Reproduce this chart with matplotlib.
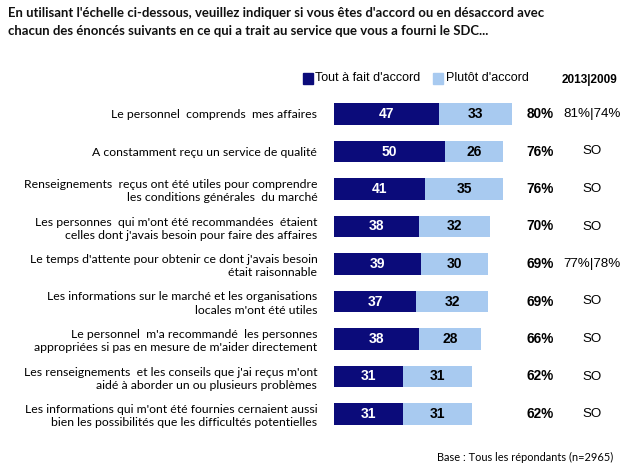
import matplotlib
matplotlib.use("Agg")
import matplotlib.pyplot as plt
from matplotlib.patches import Rectangle

categories = [
    "Le personnel  comprends  mes affaires",
    "A constamment reçu un service de qualité",
    "Renseignements  reçus ont été utiles pour comprendre\nles conditions générales  du marché",
    "Les personnes  qui m'ont été recommandées  étaient\ncelles dont j'avais besoin pour faire des affaires",
    "Le temps d'attente pour obtenir ce dont j'avais besoin\nétait raisonnable",
    "Les informations sur le marché et les organisations\nlocales m'ont été utiles",
    "Le personnel  m'a recommandé  les personnes\nappropriées si pas en mesure de m'aider directement",
    "Les renseignements  et les conseils que j'ai reçus m'ont\naidé à aborder un ou plusieurs problèmes",
    "Les informations qui m'ont été fournies cernaient aussi\nbien les possibilités que les difficultés potentielles",
]
tout_a_fait = [47, 50, 41, 38, 39, 37, 38, 31, 31]
plutot = [33, 26, 35, 32, 30, 32, 28, 31, 31]
totals = ["80%", "76%", "76%", "70%", "69%", "69%", "66%", "62%", "62%"]
previous = ["81%|74%", "SO", "SO", "SO", "77%|78%", "SO", "SO", "SO", "SO"]
legend_labels = ["Tout à fait d'accord", "Plutôt d'accord"]

DARK = "#0B0B7A"
LIGHT = "#A8CAF0"
W, H = 624, 468

fig = plt.figure(figsize=(6.24, 4.68), dpi=100)
fig.patch.set_facecolor("white")

ax_left = 334 / W
ax_w = (W - 334) / W
top_px, bot_px = 95.25, 432.75
ax = fig.add_axes([ax_left, 1 - bot_px / H, ax_w, (bot_px - top_px) / H])
xmax = (W - 334) / 2.225
ax.set_xlim(0, xmax)
n = len(categories)
ax.set_ylim(n - 0.5, -0.5)
ys = list(range(n))

ax.barh(ys, tout_a_fait, height=0.58, color=DARK)
ax.barh(ys, plutot, left=tout_a_fait, height=0.58, color=LIGHT)

for y, a, b, t, p in zip(ys, tout_a_fait, plutot, totals, previous):
    ax.text(a / 2, y, str(a), ha="center", va="center", color="white",
            fontsize=10, fontweight="bold", family="Liberation Sans")
    ax.text(a + b / 2, y, str(b), ha="center", va="center", color="black",
            fontsize=10, fontweight="bold", family="Liberation Sans")
    ax.text((540 - 334) / 2.225, y, t, ha="center", va="center", color="black",
            fontsize=9.8, fontweight="bold", family="Liberation Sans")
    ax.text((592 - 334) / 2.225, y, p, ha="center", va="center", color="black",
            fontsize=9.6, family="Liberation Sans")

ax.set_yticks(ys)
ax.set_yticklabels(categories, fontsize=8.8, family="Lato", ha="right",
                   multialignment="right", linespacing=1.25)
ax.tick_params(axis="y", length=0, pad=12)
ax.set_xticks([])
for s in ax.spines.values():
    s.set_visible(False)

# Title
fig.text(8 / W, 1 - 22 / H,
         "En utilisant l'échelle ci-dessous, veuillez indiquer si vous êtes d'accord ou en désaccord avec\n"
         "chacun des énoncés suivants en ce qui a trait au service que vous a fourni le SDC...",
         ha="left", va="center", fontsize=9.45, fontweight="bold", family="Lato",
         linespacing=1.6, color="#111111")

# Legend
fig.patches.append(Rectangle((303 / W, 1 - 84 / H), 10 / W, 11 / H,
                             transform=fig.transFigure, color=DARK))
fig.text(315 / W, 1 - 78 / H, legend_labels[0], ha="left", va="center",
         fontsize=9, family="Liberation Sans")
fig.patches.append(Rectangle((433 / W, 1 - 84 / H), 10 / W, 11 / H,
                             transform=fig.transFigure, color=LIGHT))
fig.text(446 / W, 1 - 78 / H, legend_labels[1], ha="left", va="center",
         fontsize=9, family="Liberation Sans")
fig.text(589 / W, 1 - 80 / H, "2013|2009", ha="center", va="center",
         fontsize=8.5, fontweight="bold", family="Liberation Sans")

# Base note
fig.text(613 / W, 1 - 457 / H, "Base : Tous les répondants (n=2965)",
         ha="right", va="center", fontsize=7.9, family="Lato")

fig.savefig("out.png", dpi=100, facecolor="white")
